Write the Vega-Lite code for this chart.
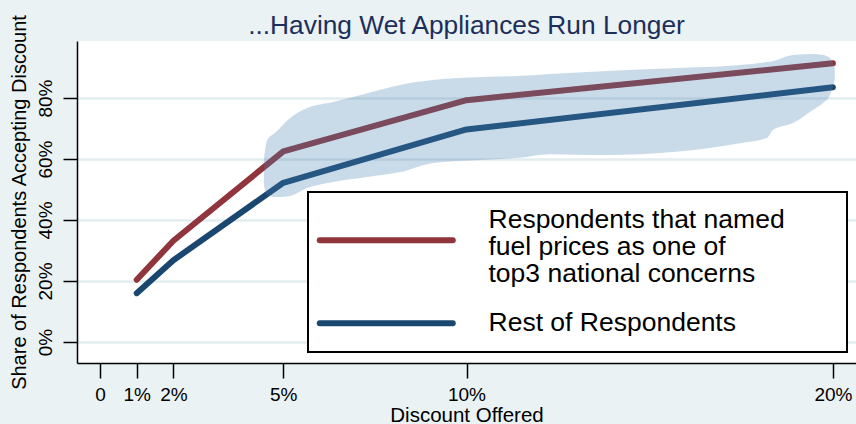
{
  "$schema": "https://vega.github.io/schema/vega-lite/v6.json",
  "width": 779,
  "height": 322,
  "autosize": {"type": "none"},
  "padding": {"left": 77, "top": 41, "right": 0, "bottom": 61},
  "background": "#eaf2f3",
  "config": {"view": {"fill": "white", "stroke": null}, "font": "Liberation Sans"},
  "title": {"text": "...Having Wet Appliances Run Longer", "fontSize": 26.3, "font": "Liberation Sans", "fontWeight": "normal", "color": "#1c2f5c", "anchor": "middle", "offset": -25},
  "datasets": {
    "lines": [
      {"x": 1, "y": 20.4, "g": "fuel"},
      {"x": 2, "y": 33.2, "g": "fuel"},
      {"x": 5, "y": 62.5, "g": "fuel"},
      {"x": 10, "y": 79.3, "g": "fuel"},
      {"x": 20, "y": 91.4, "g": "fuel"},
      {"x": 1, "y": 16.0, "g": "rest"},
      {"x": 2, "y": 26.8, "g": "rest"},
      {"x": 5, "y": 52.2, "g": "rest"},
      {"x": 10, "y": 69.7, "g": "rest"},
      {"x": 20, "y": 83.5, "g": "rest"}
    ],
    "band": [
      {"x": 4.47, "lo": 51.5, "hi": 59.7},
      {"x": 4.56, "lo": 48.2, "hi": 66.2},
      {"x": 4.77, "lo": 47.5, "hi": 68.5},
      {"x": 5.18, "lo": 47.9, "hi": 73.4},
      {"x": 5.65, "lo": 50.5, "hi": 76.7},
      {"x": 6.36, "lo": 52.5, "hi": 78.7},
      {"x": 7.29, "lo": 54.1, "hi": 81.6},
      {"x": 8.19, "lo": 55.7, "hi": 84.3},
      {"x": 9.09, "lo": 58.7, "hi": 85.9},
      {"x": 10.45, "lo": 59.7, "hi": 86.9},
      {"x": 11.38, "lo": 60.3, "hi": 87.2},
      {"x": 12.28, "lo": 61.6, "hi": 87.9},
      {"x": 13.83, "lo": 61.3, "hi": 88.9},
      {"x": 15.63, "lo": 62.3, "hi": 89.8},
      {"x": 17.46, "lo": 65.2, "hi": 90.8},
      {"x": 18.2, "lo": 66.9, "hi": 91.8},
      {"x": 18.36, "lo": 69.5, "hi": 92.1},
      {"x": 18.91, "lo": 71.8, "hi": 94.1},
      {"x": 19.45, "lo": 76.1, "hi": 94.4},
      {"x": 19.73, "lo": 78.4, "hi": 94.1},
      {"x": 19.92, "lo": 81.0, "hi": 93.1},
      {"x": 20.05, "lo": 85.9, "hi": 89.8}
    ]
  },
  "layer": [
    {
      "data": {"name": "lines"},
      "mark": {"type": "line", "strokeWidth": 6, "strokeCap": "round", "strokeJoin": "round"},
      "encoding": {
        "x": {
          "field": "x", "type": "quantitative",
          "scale": {"domain": [-0.63, 20.63], "nice": false, "zero": false},
          "axis": {
            "title": "Discount Offered", "titleFontSize": 20.5, "titleFontWeight": "normal", "titleColor": "black", "titlePadding": 1,
            "values": [0, 1, 2, 5, 10, 20],
            "labelExpr": "datum.value == 0 ? '0' : datum.value + '%'",
            "labelFontSize": 19, "labelColor": "black", "labelPadding": 7,
            "tickSize": 15, "tickWidth": 1.5, "tickColor": "black",
            "domainColor": "black", "domainWidth": 1.5, "grid": false
          }
        },
        "y": {
          "field": "y", "type": "quantitative",
          "scale": {"domain": [-6.9, 98.7], "nice": false, "zero": false},
          "axis": {
            "title": "Share of Respondents Accepting Discount", "titleFontSize": 20, "titleFontWeight": "normal", "titleColor": "black", "titlePadding": 7,
            "values": [0, 20, 40, 60, 80],
            "labelExpr": "datum.value + '%'",
            "labelAngle": -90, "labelFontSize": 19, "labelColor": "black", "labelPadding": 8,
            "tickSize": 14, "tickWidth": 1.5, "tickColor": "black",
            "domainColor": "black", "domainWidth": 1.5,
            "grid": true, "gridColor": "#e3ecef", "gridWidth": 2.5
          }
        },
        "color": {
          "field": "g", "type": "nominal",
          "scale": {"domain": ["fuel", "rest"], "range": ["#90353b", "#1a476f"]},
          "legend": {
            "orient": "none", "legendX": 231, "legendY": 151, "title": null,
            "padding": 15, "strokeColor": "black", "fillColor": "white",
            "symbolType": "M-6.65,0L6.65,0", "symbolSize": 400, "symbolStrokeWidth": 6, "symbolOffset": 50,
            "labelFontSize": 26.5, "labelFont": "Liberation Sans", "labelColor": "black", "labelLimit": 1000, "labelOffset": 89,
            "rowPadding": 22,
            "labelExpr": "datum.value == 'fuel' ? ['Respondents that named\u2800 \u2800', 'fuel prices as one of', 'top3 national concerns'] : 'Rest of Respondents'",
            "encode": {
              "symbols": {"update": {"strokeCap": {"value": "round"}, "y": {"signal": "datum.size / 2 + (datum.value == 'fuel' ? 20 : 0)"}}},
              "labels": {"update": {"lineHeight": {"value": 26.7}}},
              "legend": {"update": {"strokeWidth": {"value": 2}}}
            }
          }
        }
      }
    },
    {
      "data": {"name": "band"},
      "mark": {"type": "area", "color": "#457eb4", "opacity": 0.29, "interpolate": "monotone"},
      "encoding": {
        "x": {"field": "x", "type": "quantitative"},
        "y": {"field": "lo", "type": "quantitative"},
        "y2": {"field": "hi"}
      }
    }
  ]
}
